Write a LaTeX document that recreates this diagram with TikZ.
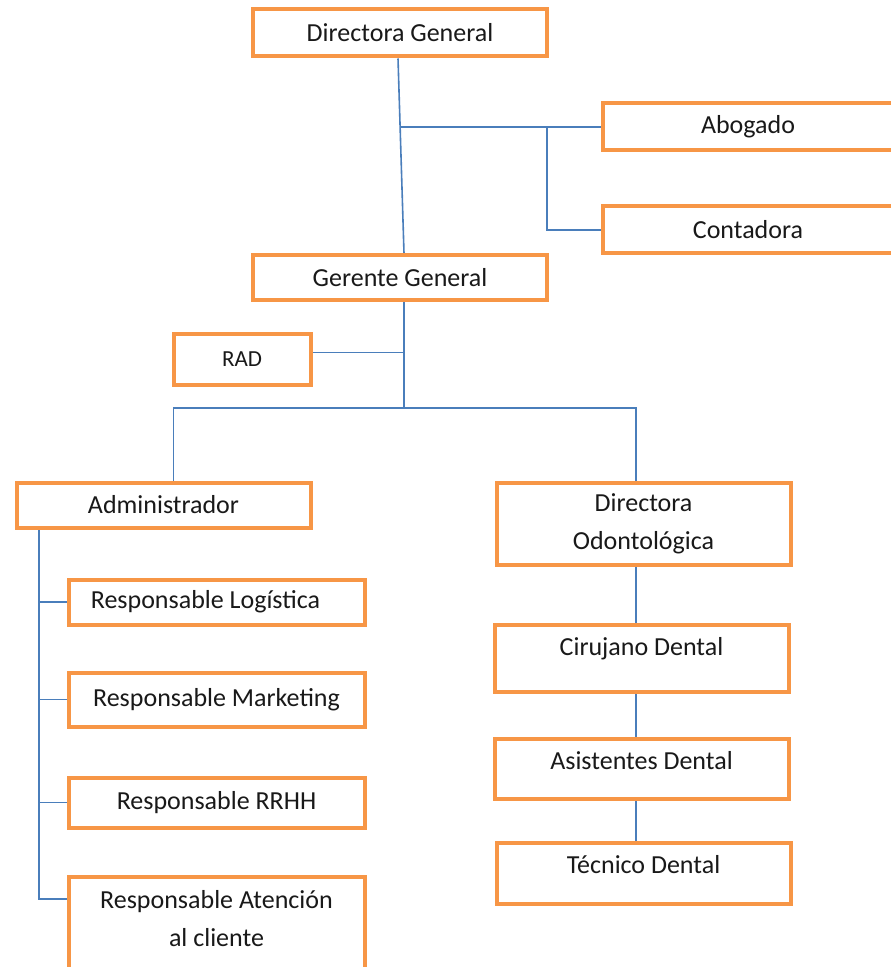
\documentclass[tikz,border=0pt]{standalone}
\usepackage{fontspec}
\setmainfont{Carlito}
\usepackage{tikz}
\usetikzlibrary{calc}
\usetikzlibrary{backgrounds}
\definecolor{boxorange}{HTML}{F79646}
\definecolor{linkblue}{HTML}{4A7EBB}

\begin{document}
\begin{tikzpicture}[x=0.5pt, y=-0.5pt,
  box/.style={draw=boxorange, line width=2pt, fill=white, rectangle, inner sep=0pt,
    font=\fontsize{13}{19}\selectfont, text=black!90, minimum width=147pt, minimum height=23pt},
  link/.style={draw=linkblue, line width=0.8pt},
  lift/.style={text height=9.5pt, text depth=#1}]

\useasboundingbox (0,0) rectangle (890,967);

\node[box, minimum height=23.5pt] (dg) at (400,33) {Directora General};
\node[box, minimum width=145pt, minimum height=23.5pt] (abo) at (748,127) {Abogado};
\node[box, minimum width=145pt, minimum height=23.5pt] (con) at (748,230) {Contadora};
\node[box, minimum height=22.5pt] (gg) at (400,278) {Gerente General};
\node[box, minimum width=68.5pt, minimum height=25.5pt, font=\fontsize{11.5}{14}\selectfont] (rad) at (242,359.5) {RAD};

\node[box, minimum height=22.5pt] (adm) at (163.5,505) {Administrador};
\node[box, align=center, minimum height=41pt] (do) at (643.5,523.5) {Directora\\Odontológica};

\node[box, minimum width=148pt, minimum height=22.5pt] (rl) at (216.5,602) {Responsable Logística\rule{11pt}{0pt}};
\node[box, minimum width=148pt, minimum height=27pt] (rm) at (216.5,699.5) {Responsable Marketing};
\node[box, minimum width=148pt, minimum height=25pt] (rh) at (216.5,802.5) {Responsable RRHH};
\node[box, minimum width=148pt, anchor=north, align=center, inner ysep=6.5pt, text depth=40pt] (ra) at (216.5,875) {Responsable Atención\\al cliente};

\node[box, minimum height=33.5pt, lift=12pt] (cd) at (641.5,658) {Cirujano Dental};
\node[box, minimum height=30pt, lift=9pt] (ad) at (641.5,768.5) {Asistentes Dental};
\node[box, minimum height=30.5pt, lift=9pt] (td) at (643.5,873) {Técnico Dental};

\begin{pgfonlayer}{background}
\fill[white] (0,0) rectangle (890,967);

\coordinate (j1) at (400,127);
\coordinate (j2) at (547,127);
\coordinate (j3) at (404,408);
\coordinate (ax) at (39,0);
\coordinate (dx) at (636,0);

\draw[link] ([xshift=-1pt]dg.south) -- ([xshift=2pt]gg.north);
\draw[link] (j1) -- (abo.west);
\draw[link] (j2) |- (con.west);

\draw[link] (j3 |- gg.south) -- (j3);
\draw[link] ([yshift=3.5pt]rad.east) -- ([yshift=3.5pt]rad.east -| j3);
\draw[link] ([xshift=5pt]adm.north) |- (j3) -| ([xshift=-3.75pt]do.north);

\draw[link] (adm.south -| ax) |- ([yshift=-12pt]ra.north west);
\foreach \n in {rl,rm,rh}
  \draw[link] (ax |- \n.west) -- (\n.west);

\draw[link] (do.south -| dx) -- (cd.north -| dx);
\draw[link] (cd.south -| dx) -- (ad.north -| dx);
\draw[link] (ad.south -| dx) -- (td.north -| dx);
\end{pgfonlayer}

\end{tikzpicture}
\end{document}
